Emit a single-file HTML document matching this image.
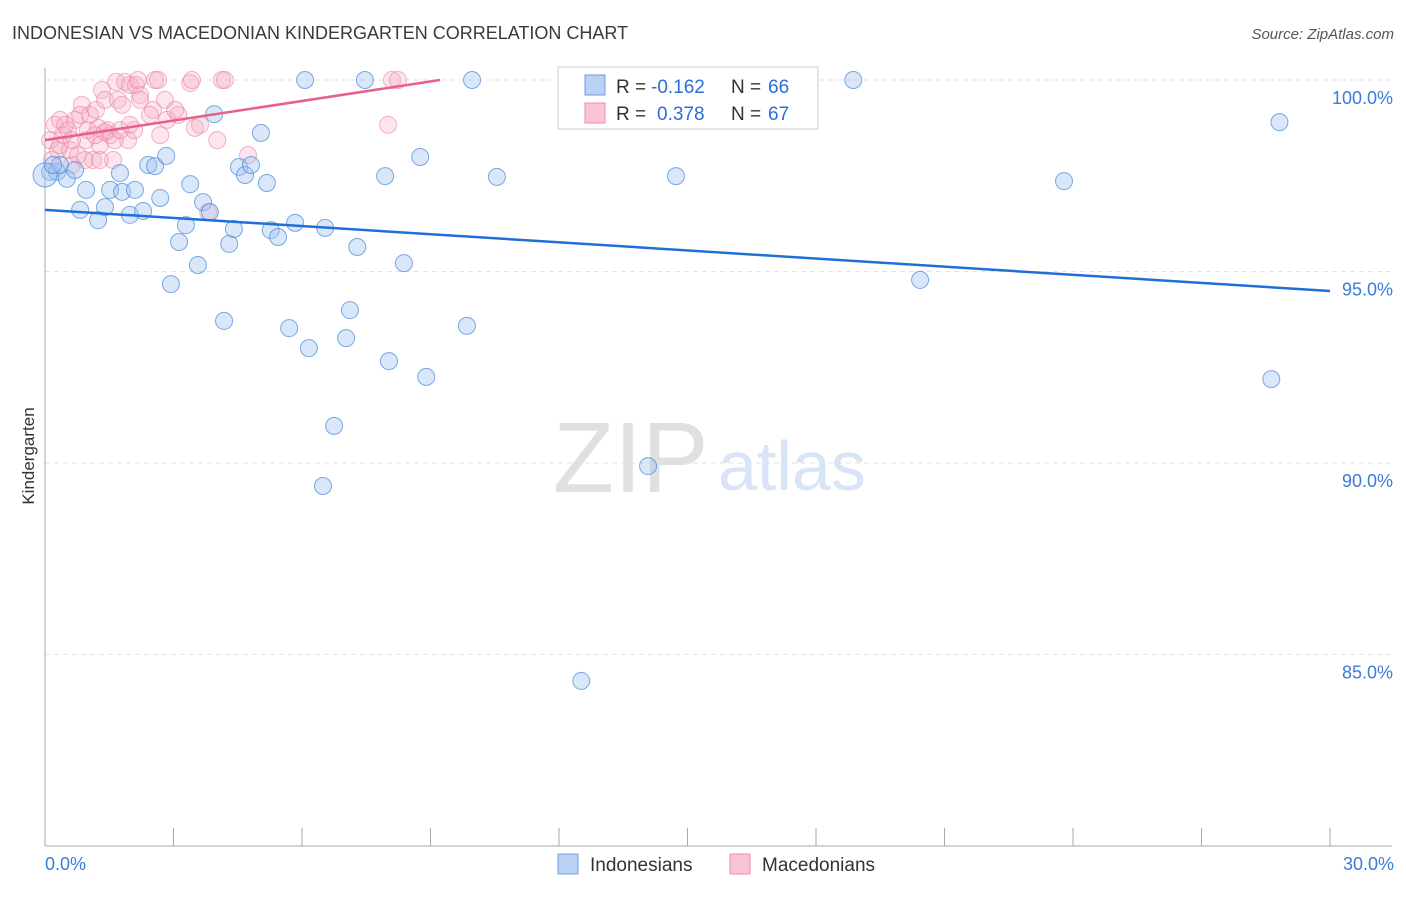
<!DOCTYPE html>
<html><head><meta charset="utf-8"><style>
body{margin:0;background:#fff;font-family:"Liberation Sans",sans-serif;}
svg text{font-family:"Liberation Sans",sans-serif;}
</style></head><body>
<svg id="c" width="1406" height="892">
<text x="12" y="39" font-size="18" fill="#3a3a3a">INDONESIAN VS MACEDONIAN KINDERGARTEN CORRELATION CHART</text>
<text x="1394" y="39" font-size="15" fill="#555" text-anchor="end" font-style="italic">Source: ZipAtlas.com</text>
<text x="34" y="456" font-size="17" fill="#333" transform="rotate(-90 34 456)" text-anchor="middle">Kindergarten</text>
<g id="grid"></g>
<text x="553" y="492" font-size="100" fill="#e0e0e0" font-family="Liberation Serif">ZIP</text>
<text x="718" y="490" font-size="70" fill="#d8e5f6">atlas</text>
<g id="pts"></g>
<g id="lines"></g>
<g>
<rect x="558" y="67" width="260" height="62" fill="#fff" stroke="#ccc"/>
<rect x="585" y="75" width="20" height="20" fill="#b9d2f3" stroke="#6a9de0"/>
<rect x="585" y="103" width="20" height="20" fill="#f8c5d4" stroke="#ee8aaa"/>
<text x="616" y="93" font-size="19" fill="#333">R =</text>
<text x="651" y="93" font-size="19" fill="#2a6fd6">-0.162</text>
<text x="731" y="93" font-size="19" fill="#333">N =</text>
<text x="768" y="93" font-size="19" fill="#2a6fd6">66</text>
<text x="616" y="120" font-size="19" fill="#333">R =</text>
<text x="657" y="120" font-size="19" fill="#2a6fd6">0.378</text>
<text x="731" y="120" font-size="19" fill="#333">N =</text>
<text x="768" y="120" font-size="19" fill="#2a6fd6">67</text>
</g>
<g>
<rect x="558" y="854" width="20" height="20" fill="#b9d2f3" stroke="#6a9de0"/>
<text x="590" y="871" font-size="19" fill="#333">Indonesians</text>
<rect x="730" y="854" width="20" height="20" fill="#f8c5d4" stroke="#ee8aaa"/>
<text x="762" y="871" font-size="19" fill="#333">Macedonians</text>
</g>
</svg>
<script>
const yTicks=[100,95,90,85];
const yTickLabels=["100.0%","95.0%","90.0%","85.0%"];
const xTickLabels=["0.0%","30.0%"];
const blueX=[.12,.28,.51,.35,.70,.82,.96,1.24,1.40,1.52,1.75,1.80,1.98,2.10,2.29,2.41,2.57,2.69,2.83,2.94,3.13,3.29,3.39,3.57,3.69,3.85,3.95,4.18,4.30,4.41,4.53,4.67,4.81,5.04,5.18,5.27,5.44,5.70,5.84,6.07,6.16,6.49,6.54,6.75,7.03,7.12,7.29,7.47,7.94,8.03,8.38,8.76,8.90,9.85,9.97,10.55,12.52,14.08,14.73,18.87,20.43,23.79,28.63,28.82,0,.19];
const blueY=[97.60,97.60,97.42,97.78,97.65,96.61,97.13,96.34,96.68,97.13,97.57,97.08,96.48,97.13,96.58,97.78,97.75,96.92,98.02,94.67,95.77,96.21,97.28,95.17,96.81,96.55,99.11,93.71,95.72,96.11,97.73,97.52,97.78,98.62,97.31,96.08,95.90,93.52,96.27,100,93.00,89.40,96.14,90.97,93.26,93.99,95.64,100,97.49,92.66,95.22,97.99,92.25,93.58,100,97.47,84.31,89.92,97.49,100,94.78,97.36,92.19,98.90,97.52,97.78];
const pinkX=[.12,.23,.35,.30,.42,.54,.58,.63,.70,.77,.86,.96,1.00,1.05,1.12,1.19,1.24,1.28,1.33,1.40,1.47,1.52,1.59,1.66,1.70,1.80,1.87,1.94,1.98,2.08,2.12,2.17,2.22,2.52,2.57,2.64,2.69,2.85,3.11,3.39,3.43,3.50,3.62,3.81,4.02,4.13,4.20,4.74,8.01,8.10,8.24,.16,.35,.47,.63,.82,.93,1.17,1.28,1.40,1.63,1.75,1.98,2.22,2.45,2.80,3.04];
const pinkY=[98.43,98.83,98.96,98.17,98.56,98.69,98.17,97.78,98.96,98.04,99.35,98.43,98.69,99.09,97.91,99.22,98.75,98.30,99.74,99.48,98.69,98.56,97.91,99.95,99.48,99.35,99.95,98.43,99.87,98.69,99.87,100,99.61,99.22,100,100,98.56,98.96,99.09,99.92,100,98.75,98.83,96.55,98.43,100,100,98.04,98.83,100,100,97.91,98.30,98.83,98.43,99.09,97.91,98.56,97.91,98.64,98.43,98.69,98.83,99.48,99.09,99.48,99.22];
const blueLine=[[0,96.61],[30,94.49]];
const pinkLine=[[0,98.43],[9.22,100]];
const NS="http://www.w3.org/2000/svg";
const X=v=>45+v/30*1285, Y=v=>80+(100-v)*38.3;
function mk(t,a,p){const e=document.createElementNS(NS,t);for(const k in a)e.setAttribute(k,a[k]);p.appendChild(e);return e;}
const g=document.getElementById('grid');
yTicks.forEach((t,i)=>{
 const l=mk('line',{x1:45,x2:1392,y1:Y(t),y2:Y(t),stroke:'#e2e2e2','stroke-dasharray':'5,4'},g);
 
 
 const tx=mk('text',{x:1393,y:Y(t)+24,'font-size':18,fill:'#3b7bdb','text-anchor':'end'},g);
 tx.textContent=yTickLabels[i];
 
 
});
mk('line',{x1:45,x2:45,y1:68,y2:846,stroke:'#aaa'},g);
mk('line',{x1:45,x2:1392,y1:846,y2:846,stroke:'#aaa'},g);
for(let i=0;i<=10;i++){const x=X(i*3);mk('line',{x1:x,x2:x,y1:828,y2:846,stroke:'#aaa'},g);}
xTickLabels.forEach((s,i)=>{
 const tx=mk('text',{x:i?1394:45,y:870,'font-size':18,fill:'#3b7bdb','text-anchor':i?'end':'start'},g);
 tx.textContent=s;
 
 
});
const p=document.getElementById('pts');
pinkX.forEach((v,i)=>{
 const c=mk('circle',{cx:X(v),cy:Y(pinkY[i]),r:8.5,fill:'rgba(245,170,195,0.3)',stroke:'rgba(235,130,165,0.6)'},p);
 
 
});
blueX.forEach((v,i)=>{
 const c=mk('circle',{cx:X(v),cy:Y(blueY[i]),r:i==64?12:8.5,fill:'rgba(160,195,240,0.4)',stroke:'rgba(70,135,220,0.7)'},p);
 
 
});
const L=document.getElementById('lines');
const bl=mk('line',{x1:X(blueLine[0][0]),y1:Y(blueLine[0][1]),x2:X(blueLine[1][0]),y2:Y(blueLine[1][1]),stroke:'#1f6fd8','stroke-width':2.5},L);


const pl=mk('line',{x1:X(pinkLine[0][0]),y1:Y(pinkLine[0][1]),x2:X(pinkLine[1][0]),y2:Y(pinkLine[1][1]),stroke:'#e8608a','stroke-width':2.5},L);


</script>
</body></html>
